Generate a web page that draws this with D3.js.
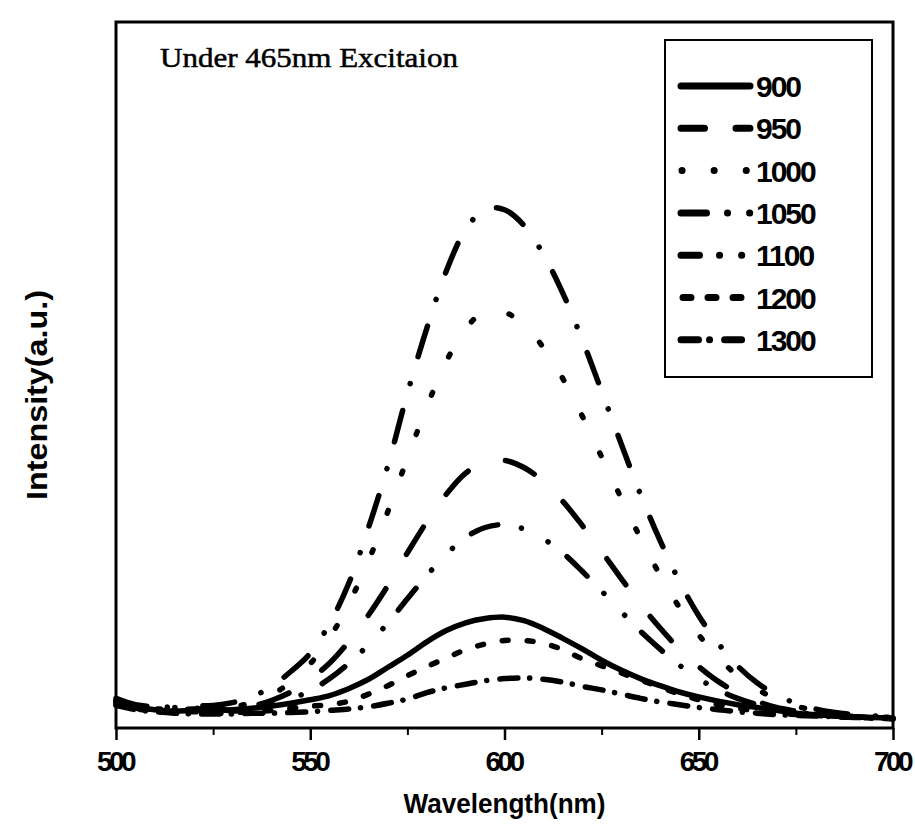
<!DOCTYPE html>
<html><head><meta charset="utf-8">
<script src="https://cdn.jsdelivr.net/npm/d3@7"></script>
<style>body{margin:0;background:#fff}</style>
</head><body>
<svg id="chart" width="915" height="838"></svg>
<script>
// ---- data ----
const wavelength = [500,505,510,515,520,525,530,535,540,545,550,555,560,565,570,575,580,585,590,595,600,605,610,615,620,625,630,635,640,645,650,655,660,665,670,675,680,685,690,695,700];
const s900  = [3.8,3.0,2.6,2.4,2.5,2.5,2.6,2.8,3.1,3.5,4.0,4.6,5.6,6.9,8.6,10.3,12.2,13.8,14.9,15.5,15.7,15.2,14.1,12.7,11.2,9.6,8.2,7.0,6.0,5.1,4.4,3.8,3.3,2.9,2.5,2.1,1.9,1.7,1.6,1.5,1.4];
const s950  = [3.3,2.8,2.6,2.5,2.7,2.6,2.7,3.1,3.9,5.1,6.9,9.2,12.3,16.0,20.2,24.8,29.2,33.1,36.1,37.7,37.9,36.9,34.9,32.1,28.7,25.0,21.2,17.5,14.2,11.2,8.7,6.6,5.0,3.8,2.9,2.4,2.0,1.8,1.6,1.5,1.5];
const s1000 = [3.6,3.0,2.7,2.8,2.6,2.9,3.0,3.6,4.7,6.5,9.1,12.8,17.7,23.7,30.7,38.2,45.5,51.9,56.6,59.0,58.9,57.1,53.9,49.5,44.2,38.4,32.6,26.9,21.7,17.1,13.2,10.0,7.4,5.5,4.1,3.1,2.5,2.1,1.8,1.6,1.5];
const s1050 = [4.2,3.3,3.0,2.9,3.1,3.2,3.6,4.4,5.9,8.0,10.6,14.8,20.6,28.4,37.2,47.4,56.6,64.7,70.6,73.5,73.4,71.2,67.1,61.6,55.0,47.7,40.3,33.1,26.6,20.8,15.9,12.0,8.8,6.4,4.7,3.5,2.7,2.2,1.9,1.7,1.6];
const s1100 = [3.9,3.2,2.9,3.0,2.8,2.9,2.4,2.8,3.3,4.1,5.3,7.0,9.2,11.8,14.9,18.3,21.6,24.6,27.0,28.4,28.8,28.2,26.8,24.8,22.2,19.4,16.5,13.7,11.2,8.9,7.0,5.4,4.2,3.3,2.6,2.2,1.9,1.7,1.6,1.5,1.4];
const s1200 = [3.5,2.7,2.5,2.2,2.3,2.1,2.2,2.3,2.5,2.8,3.1,3.3,3.8,4.8,6.0,7.4,8.7,9.9,11.1,11.9,12.4,12.4,12.0,11.1,9.8,8.8,7.8,6.8,5.8,4.8,4.0,3.3,2.8,2.4,2.1,1.9,1.8,1.6,1.5,1.4,1.3];
const s1300 = [3.2,2.6,2.3,2.1,2.0,2.0,2.0,2.1,2.1,2.2,2.3,2.5,2.7,3.0,3.5,4.1,5.0,5.7,6.2,6.7,7.0,7.1,6.9,6.5,5.9,5.4,4.8,4.2,3.7,3.3,2.9,2.6,2.3,2.1,1.9,1.8,1.7,1.6,1.5,1.4,1.3];
const seriesNames = ["900","950","1000","1050","1100","1200","1300"];
const seriesValues = [s900,s950,s1000,s1050,s1100,s1200,s1300];
const xTickValues = [500,550,600,650,700];
const xMinorTickValues = [525,575,625,675];
const titleText = "Under 465nm Excitaion";
const xLabelText = "Wavelength(nm)";
const yLabelText = "Intensity(a.u.)";

// ---- styles ----
const plotDash = {
  "900": null,
  "950": "32 40",
  "1000": "3 39",
  "1050": "32 28 0.1 28",
  "1100": "28 24 0.1 30 0.1 24",
  "1200": "6 19",
  "1300": "18 11.8 0.1 13.2"
};
const legendDash = {
  "900": null,
  "950": "23.5 31.5",
  "1000": "0.1 32",
  "1050": "25.5 21 0.1 22 0.1 30",
  "1100": "18.5 20 0.1 22 0.1 30",
  "1200": "8 17",
  "1300": "17.5 11 0.1 15 17 30"
};
const sansFont = "'Liberation Sans', Arial, sans-serif";

const svg = d3.select("#chart");
const x = d3.scaleLinear().domain([500,700]).range([116,893]);
const y = d3.scaleLinear().domain([0,100]).range([728,22]);

// curves
const line = d3.line().x(d => x(d[0])).y(d => y(d[1])).curve(d3.curveCatmullRom);
const gLines = svg.append("g");
seriesNames.forEach((name, i) => {
  const pts = wavelength.map((w, j) => [w, seriesValues[i][j]]);
  gLines.append("path")
    .attr("d", line(pts))
    .attr("fill", "none")
    .attr("stroke", "#000")
    .attr("stroke-width", 5.5)
    .attr("stroke-linecap", "round")
    .attr("stroke-linejoin", "round")
    .attr("stroke-dasharray", plotDash[name]);
});

// frame
svg.append("rect")
  .attr("x", x(500)).attr("y", y(100))
  .attr("width", x(700) - x(500)).attr("height", y(0) - y(100))
  .attr("fill", "none").attr("stroke", "#000").attr("stroke-width", 3);

// x axis
const xAxis = d3.axisBottom(x).tickValues(xTickValues).tickSize(12).tickPadding(11).tickFormat(d3.format("d"));
const gx = svg.append("g").attr("transform", `translate(0,${y(0)})`).call(xAxis);
gx.select(".domain").remove();
gx.selectAll(".tick line").attr("stroke", "#000").attr("stroke-width", 2.5);
gx.selectAll(".tick text")
  .attr("fill", "#000")
  .attr("dx", "-1.5")
  .style("font-family", sansFont)
  .style("font-size", "28px")
  .style("font-weight", "bold")
  .style("letter-spacing", "-3.5px");
const xMinor = d3.axisBottom(x).tickValues(xMinorTickValues).tickSize(7).tickFormat("");
const gxm = svg.append("g").attr("transform", `translate(0,${y(0)})`).call(xMinor);
gxm.select(".domain").remove();
gxm.selectAll(".tick line").attr("stroke", "#000").attr("stroke-width", 2);

// axis labels
svg.append("text")
  .attr("x", x(600)).attr("y", 813)
  .attr("text-anchor", "middle")
  .style("font-family", sansFont)
  .style("font-size", "28px")
  .style("font-weight", "bold")
  .attr("textLength", 202).attr("lengthAdjust", "spacingAndGlyphs")
  .text(xLabelText);
svg.append("text")
  .attr("transform", "translate(47,395) rotate(-90)")
  .attr("text-anchor", "middle")
  .style("font-family", sansFont)
  .style("font-size", "30px")
  .style("font-weight", "bold")
  .attr("textLength", 210).attr("lengthAdjust", "spacingAndGlyphs")
  .text(yLabelText);

// title annotation
svg.append("text")
  .attr("x", 160).attr("y", 67)
  .style("font-family", "'Liberation Serif', 'Times New Roman', serif")
  .style("font-size", "27px")
  .attr("stroke", "#000").attr("stroke-width", 0.5)
  .attr("textLength", 298).attr("lengthAdjust", "spacingAndGlyphs")
  .text(titleText);

// legend
const legend = svg.append("g");
legend.append("rect")
  .attr("x", 665).attr("y", 40).attr("width", 207).attr("height", 337)
  .attr("fill", "#fff").attr("stroke", "#000").attr("stroke-width", 2);
seriesNames.forEach((name, i) => {
  const ry = 86 + i * 42.3;
  const lx1 = name === "1000" ? 682 : (name === "1200" ? 683 : 681);
  legend.append("line")
    .attr("x1", lx1).attr("x2", 750).attr("y1", ry).attr("y2", ry)
    .attr("stroke", "#000").attr("stroke-width", 7)
    .attr("stroke-linecap", "round")
    .attr("stroke-dasharray", legendDash[name]);
  legend.append("text")
    .attr("x", 756).attr("y", ry + 11)
    .style("font-family", sansFont)
    .style("font-size", "30px")
    .style("font-weight", "bold")
    .attr("letter-spacing", -2)
    .text(name);
});
</script>
</body></html>
